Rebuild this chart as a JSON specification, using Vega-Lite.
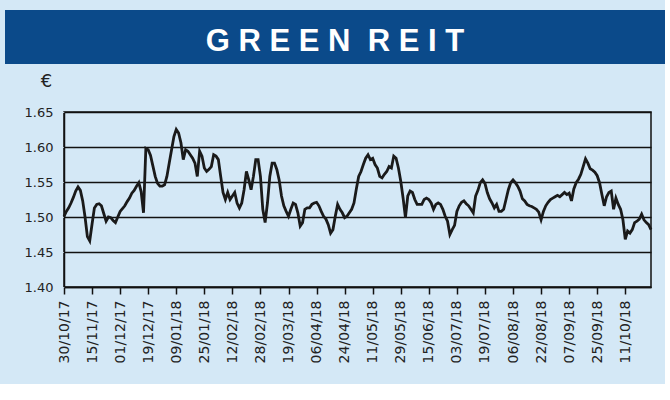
{
  "$schema": "https://vega.github.io/schema/vega-lite/v6.json",
  "background": "#d4e8f6",
  "padding": {"left": 5, "top": 10, "right": 0, "bottom": 20},
  "config": {"font": "DejaVu Sans"},
  "spacing": 7,
  "vconcat": [
    {
      "width": 660,
      "height": 54,
      "view": {"fill": "#0b4a8a", "stroke": null},
      "data": {"values": [{"t": "G R E E N \u00a0R E I T"}]},
      "mark": {"type": "text", "font": "Liberation Sans", "fontWeight": "bold", "fontSize": 31, "color": "white", "baseline": "middle", "dy": 5},
      "encoding": {"text": {"field": "t"}}
    },
    {
      "spacing": 0,
      "hconcat": [
        {
          "width": 1,
          "height": 1,
          "view": {"stroke": null},
          "data": {"values": [{"t": ""}]},
          "mark": {"type": "text"},
          "encoding": {"text": {"field": "t"}}
        },
        {
          "width": 587,
          "height": 175,
          "view": {"stroke": "#111111", "strokeWidth": 1.5},
          "data": {"values": [
            {"d":"30/10/17","v":1.501},{"d":"31/10/17","v":1.508},{"d":"01/11/17","v":1.513},{"d":"02/11/17","v":1.520},{"d":"03/11/17","v":1.528},
            {"d":"06/11/17","v":1.537},{"d":"07/11/17","v":1.543},{"d":"08/11/17","v":1.538},{"d":"09/11/17","v":1.523},{"d":"10/11/17","v":1.500},
            {"d":"13/11/17","v":1.472},{"d":"14/11/17","v":1.466},{"d":"15/11/17","v":1.490},{"d":"16/11/17","v":1.513},{"d":"17/11/17","v":1.518},
            {"d":"20/11/17","v":1.519},{"d":"21/11/17","v":1.516},{"d":"22/11/17","v":1.505},{"d":"23/11/17","v":1.494},{"d":"24/11/17","v":1.500},
            {"d":"27/11/17","v":1.499},{"d":"28/11/17","v":1.495},{"d":"29/11/17","v":1.492},{"d":"30/11/17","v":1.500},{"d":"01/12/17","v":1.508},
            {"d":"04/12/17","v":1.512},{"d":"05/12/17","v":1.516},{"d":"06/12/17","v":1.522},{"d":"07/12/17","v":1.527},{"d":"08/12/17","v":1.534},
            {"d":"11/12/17","v":1.538},{"d":"12/12/17","v":1.544},{"d":"13/12/17","v":1.549},{"d":"14/12/17","v":1.536},{"d":"15/12/17","v":1.506},
            {"d":"18/12/17","v":1.598},{"d":"19/12/17","v":1.596},{"d":"20/12/17","v":1.588},{"d":"21/12/17","v":1.573},{"d":"22/12/17","v":1.558},
            {"d":"27/12/17","v":1.548},{"d":"28/12/17","v":1.544},{"d":"29/12/17","v":1.544},{"d":"02/01/18","v":1.546},{"d":"03/01/18","v":1.558},
            {"d":"04/01/18","v":1.577},{"d":"05/01/18","v":1.596},{"d":"08/01/18","v":1.615},{"d":"09/01/18","v":1.625},{"d":"10/01/18","v":1.620},
            {"d":"11/01/18","v":1.606},{"d":"12/01/18","v":1.582},{"d":"15/01/18","v":1.596},{"d":"16/01/18","v":1.594},{"d":"17/01/18","v":1.589},
            {"d":"18/01/18","v":1.584},{"d":"19/01/18","v":1.577},{"d":"22/01/18","v":1.558},{"d":"23/01/18","v":1.594},{"d":"24/01/18","v":1.587},
            {"d":"25/01/18","v":1.570},{"d":"26/01/18","v":1.565},{"d":"29/01/18","v":1.568},{"d":"30/01/18","v":1.572},{"d":"31/01/18","v":1.589},
            {"d":"01/02/18","v":1.587},{"d":"02/02/18","v":1.582},{"d":"05/02/18","v":1.558},{"d":"06/02/18","v":1.535},{"d":"07/02/18","v":1.525},
            {"d":"08/02/18","v":1.535},{"d":"09/02/18","v":1.525},{"d":"12/02/18","v":1.530},{"d":"13/02/18","v":1.535},{"d":"14/02/18","v":1.520},
            {"d":"15/02/18","v":1.513},{"d":"16/02/18","v":1.520},{"d":"19/02/18","v":1.539},{"d":"20/02/18","v":1.565},{"d":"21/02/18","v":1.553},
            {"d":"22/02/18","v":1.539},{"d":"23/02/18","v":1.558},{"d":"26/02/18","v":1.582},{"d":"27/02/18","v":1.582},{"d":"28/02/18","v":1.558},
            {"d":"01/03/18","v":1.511},{"d":"05/03/18","v":1.492},{"d":"06/03/18","v":1.520},{"d":"07/03/18","v":1.558},{"d":"08/03/18","v":1.577},
            {"d":"09/03/18","v":1.577},{"d":"12/03/18","v":1.568},{"d":"13/03/18","v":1.553},{"d":"14/03/18","v":1.530},{"d":"15/03/18","v":1.516},
            {"d":"16/03/18","v":1.508},{"d":"19/03/18","v":1.501},{"d":"20/03/18","v":1.511},{"d":"21/03/18","v":1.520},{"d":"22/03/18","v":1.518},
            {"d":"23/03/18","v":1.506},{"d":"26/03/18","v":1.487},{"d":"27/03/18","v":1.492},{"d":"28/03/18","v":1.511},{"d":"29/03/18","v":1.513},
            {"d":"03/04/18","v":1.513},{"d":"04/04/18","v":1.518},{"d":"05/04/18","v":1.520},{"d":"06/04/18","v":1.521},{"d":"09/04/18","v":1.516},
            {"d":"10/04/18","v":1.508},{"d":"11/04/18","v":1.501},{"d":"12/04/18","v":1.497},{"d":"13/04/18","v":1.489},{"d":"16/04/18","v":1.477},
            {"d":"17/04/18","v":1.482},{"d":"18/04/18","v":1.501},{"d":"19/04/18","v":1.518},{"d":"20/04/18","v":1.511},{"d":"23/04/18","v":1.506},
            {"d":"24/04/18","v":1.499},{"d":"25/04/18","v":1.501},{"d":"26/04/18","v":1.506},{"d":"27/04/18","v":1.511},{"d":"30/04/18","v":1.520},
            {"d":"01/05/18","v":1.540},{"d":"02/05/18","v":1.558},{"d":"03/05/18","v":1.565},{"d":"04/05/18","v":1.575},{"d":"08/05/18","v":1.584},
            {"d":"09/05/18","v":1.589},{"d":"10/05/18","v":1.582},{"d":"11/05/18","v":1.584},{"d":"14/05/18","v":1.575},{"d":"15/05/18","v":1.570},
            {"d":"16/05/18","v":1.558},{"d":"17/05/18","v":1.556},{"d":"18/05/18","v":1.561},{"d":"21/05/18","v":1.565},{"d":"22/05/18","v":1.572},
            {"d":"23/05/18","v":1.570},{"d":"24/05/18","v":1.587},{"d":"25/05/18","v":1.584},{"d":"28/05/18","v":1.570},{"d":"29/05/18","v":1.551},
            {"d":"30/05/18","v":1.527},{"d":"31/05/18","v":1.499},{"d":"01/06/18","v":1.530},{"d":"05/06/18","v":1.537},{"d":"06/06/18","v":1.535},
            {"d":"07/06/18","v":1.525},{"d":"08/06/18","v":1.518},{"d":"11/06/18","v":1.518},{"d":"12/06/18","v":1.518},{"d":"13/06/18","v":1.525},
            {"d":"14/06/18","v":1.527},{"d":"15/06/18","v":1.525},{"d":"18/06/18","v":1.520},{"d":"19/06/18","v":1.511},{"d":"20/06/18","v":1.518},
            {"d":"21/06/18","v":1.520},{"d":"22/06/18","v":1.518},{"d":"25/06/18","v":1.511},{"d":"26/06/18","v":1.501},{"d":"27/06/18","v":1.494},
            {"d":"28/06/18","v":1.475},{"d":"29/06/18","v":1.482},{"d":"02/07/18","v":1.488},{"d":"03/07/18","v":1.508},{"d":"04/07/18","v":1.516},
            {"d":"05/07/18","v":1.521},{"d":"06/07/18","v":1.523},{"d":"09/07/18","v":1.519},{"d":"10/07/18","v":1.516},{"d":"11/07/18","v":1.511},
            {"d":"12/07/18","v":1.506},{"d":"13/07/18","v":1.530},{"d":"16/07/18","v":1.538},{"d":"17/07/18","v":1.549},{"d":"18/07/18","v":1.553},
            {"d":"19/07/18","v":1.548},{"d":"20/07/18","v":1.535},{"d":"23/07/18","v":1.526},{"d":"24/07/18","v":1.520},{"d":"25/07/18","v":1.513},
            {"d":"26/07/18","v":1.518},{"d":"27/07/18","v":1.508},{"d":"30/07/18","v":1.508},{"d":"31/07/18","v":1.511},{"d":"01/08/18","v":1.525},
            {"d":"02/08/18","v":1.539},{"d":"03/08/18","v":1.549},{"d":"06/08/18","v":1.553},{"d":"07/08/18","v":1.549},{"d":"08/08/18","v":1.544},
            {"d":"09/08/18","v":1.537},{"d":"10/08/18","v":1.526},{"d":"13/08/18","v":1.523},{"d":"14/08/18","v":1.518},{"d":"15/08/18","v":1.516},
            {"d":"16/08/18","v":1.515},{"d":"17/08/18","v":1.513},{"d":"20/08/18","v":1.511},{"d":"21/08/18","v":1.507},{"d":"22/08/18","v":1.496},
            {"d":"23/08/18","v":1.508},{"d":"24/08/18","v":1.516},{"d":"27/08/18","v":1.521},{"d":"28/08/18","v":1.525},{"d":"29/08/18","v":1.527},
            {"d":"30/08/18","v":1.529},{"d":"31/08/18","v":1.531},{"d":"03/09/18","v":1.529},{"d":"04/09/18","v":1.532},{"d":"05/09/18","v":1.535},
            {"d":"06/09/18","v":1.532},{"d":"07/09/18","v":1.534},{"d":"10/09/18","v":1.523},{"d":"11/09/18","v":1.540},{"d":"12/09/18","v":1.549},
            {"d":"13/09/18","v":1.554},{"d":"14/09/18","v":1.561},{"d":"17/09/18","v":1.572},{"d":"18/09/18","v":1.583},{"d":"19/09/18","v":1.577},
            {"d":"20/09/18","v":1.569},{"d":"21/09/18","v":1.567},{"d":"24/09/18","v":1.564},{"d":"25/09/18","v":1.559},{"d":"26/09/18","v":1.549},
            {"d":"27/09/18","v":1.532},{"d":"28/09/18","v":1.516},{"d":"01/10/18","v":1.529},{"d":"02/10/18","v":1.535},{"d":"03/10/18","v":1.537},
            {"d":"04/10/18","v":1.511},{"d":"05/10/18","v":1.527},{"d":"08/10/18","v":1.518},{"d":"09/10/18","v":1.511},{"d":"10/10/18","v":1.496},
            {"d":"11/10/18","v":1.468},{"d":"12/10/18","v":1.480},{"d":"15/10/18","v":1.477},{"d":"16/10/18","v":1.482},{"d":"17/10/18","v":1.492},
            {"d":"18/10/18","v":1.494},{"d":"19/10/18","v":1.497},{"d":"22/10/18","v":1.504},{"d":"23/10/18","v":1.496},{"d":"24/10/18","v":1.492},
            {"d":"25/10/18","v":1.489},{"d":"26/10/18","v":1.482}
          ]},
          "mark": {"type": "line", "color": "#1a1a1a", "strokeWidth": 2.8},
          "encoding": {
            "x": {
              "field": "d", "type": "ordinal", "sort": null,
              "scale": {"type": "point", "padding": 0},
              "axis": {
                "values": ["30/10/17","15/11/17","01/12/17","19/12/17","09/01/18","25/01/18","12/02/18","28/02/18","19/03/18","06/04/18","24/04/18","11/05/18","29/05/18","15/06/18","03/07/18","19/07/18","06/08/18","22/08/18","07/09/18","25/09/18","11/10/18"],
                "title": null, "labelAngle": -90, "labelFontSize": 14, "labelColor": "#222222",
                "labelPadding": 6, "labelOverlap": false, "tickSize": 7, "tickColor": "#111111", "tickWidth": 1.5,
                "domainColor": "#111111", "domainWidth": 1.5, "grid": false
              }
            },
            "y": {
              "field": "v", "type": "quantitative",
              "scale": {"domain": [1.4, 1.65], "zero": false, "nice": false},
              "axis": {
                "values": [1.4, 1.45, 1.5, 1.55, 1.6, 1.65], "format": ".2f",
                "title": "€", "titleAngle": 0, "titleX": -18, "titleY": -31, "titleBaseline": "middle", "titleAlign": "center",
                "titleFontSize": 18, "titleFontWeight": "normal", "titleColor": "#222222",
                "labelFontSize": 13, "labelColor": "#222222", "labelFlush": false,
                "tickSize": 56, "tickColor": "#d4e8f6", "labelPadding": -45,
                "domainColor": "#111111", "domainWidth": 1.5,
                "gridColor": "#111111", "gridWidth": 1.5, "gridOpacity": 1
              }
            }
          }
        }
      ]
    }
  ]
}
